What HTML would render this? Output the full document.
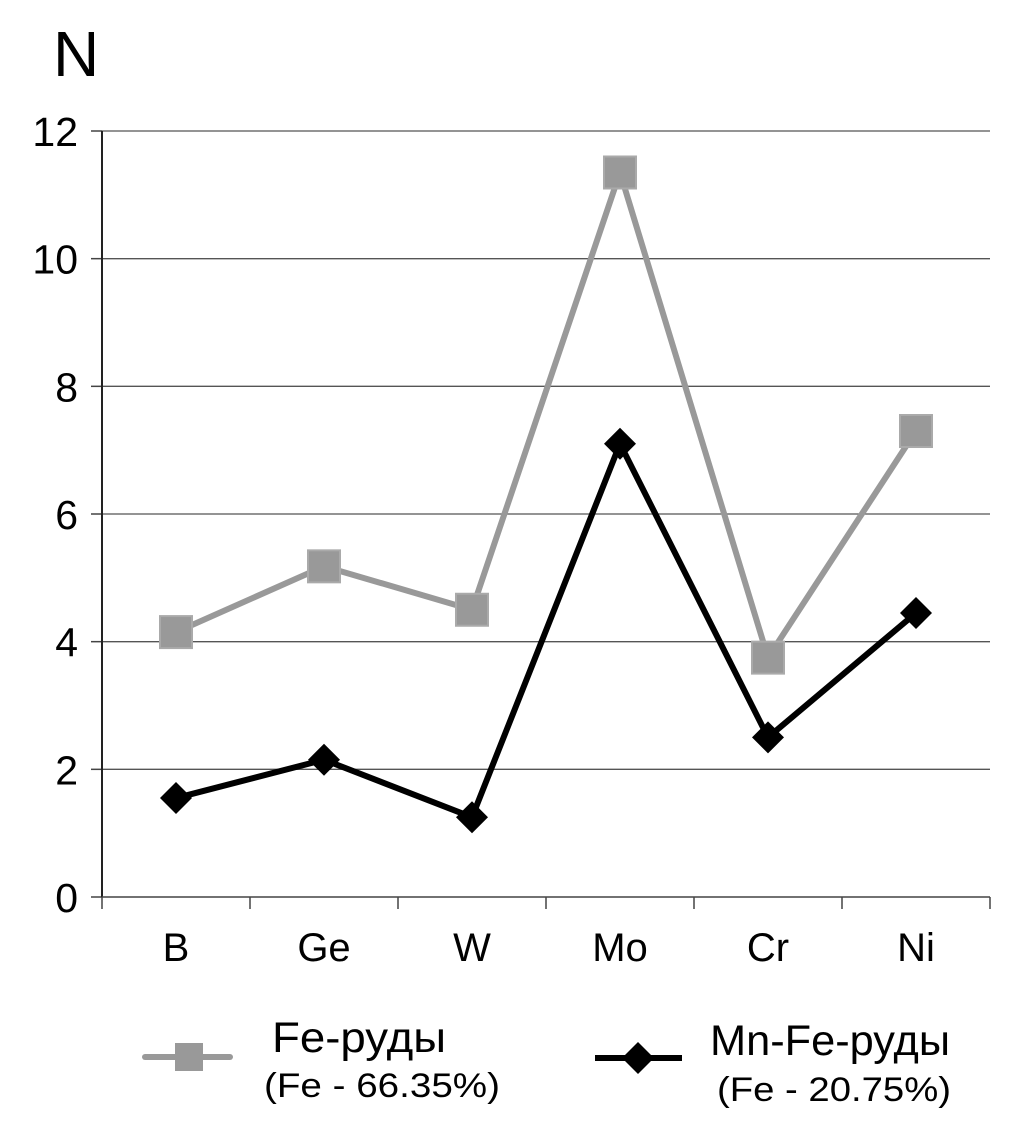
<!DOCTYPE html>
<html><head><meta charset="utf-8"><style>
body{margin:0;background:#fff;}
svg text{font-family:"Liberation Sans",sans-serif;}
</style></head><body>
<svg width="1014" height="1131" viewBox="0 0 1014 1131" id="chart">
<text x="53" y="76" font-size="64" fill="#000">N</text>
<g id="grid"></g><g id="axes"></g><g id="series"></g>
<g>
<g>
<line x1="145" y1="1057" x2="230" y2="1057" stroke="#999" stroke-width="6" stroke-linecap="round"/>
<rect x="175" y="1043" width="28" height="28" fill="#999"/>
<text x="272" y="1052" font-size="43" fill="#000" textLength="174" lengthAdjust="spacingAndGlyphs">Fe-руды</text>
<text x="264" y="1097" font-size="34" fill="#000" textLength="236" lengthAdjust="spacingAndGlyphs">(Fe - 66.35%)</text>
</g>
<g>
<line x1="595" y1="1058" x2="682" y2="1058" stroke="#000" stroke-width="6"/>
<polygon points="638,1042 654,1058 638,1074 622,1058" fill="#000"/>
<text x="710" y="1055" font-size="43" fill="#000" textLength="240" lengthAdjust="spacingAndGlyphs">Mn-Fe-руды</text>
<text x="717" y="1101" font-size="34" fill="#000" textLength="234" lengthAdjust="spacingAndGlyphs">(Fe - 20.75%)</text>
</g>
</g>
</svg>
<script>
const categories=["B","Ge","W","Mo","Cr","Ni"];
const feValues=[4.15,5.18,4.5,11.35,3.75,7.3];
const mnValues=[1.55,2.15,1.25,7.1,2.5,4.45];
const yTicks=[0,2,4,6,8,10,12];
const NS="http://www.w3.org/2000/svg";
const x0=102,x1=990,y0=897,y1=131,yMax=12;
const band=(x1-x0)/categories.length;
const xs=i=>x0+band*(i+0.5);
const ys=v=>y0-(v/yMax)*(y0-y1);
function mk(t,a,p){const e=document.createElementNS(NS,t);for(const k in a)e.setAttribute(k,a[k]);p.appendChild(e);return e;}
const grid=document.getElementById('grid'),axes=document.getElementById('axes'),ser=document.getElementById('series');
yTicks.forEach(v=>{
  const y=ys(v);
  if(v>0){const g=mk('line',{x1:x0,y1:y,x2:x1,y2:y,stroke:'#555','stroke-width':1.3},grid);
  
  }
  mk('line',{x1:91,y1:y,x2:x0,y2:y,stroke:'#444','stroke-width':1.5},axes);
  const t=mk('text',{x:78,y:y+15,'font-size':41,'text-anchor':'end',fill:'#000'},axes);
  t.textContent=v;
  
  
});
mk('line',{x1:x0,y1:y1,x2:x0,y2:y0,stroke:'#222','stroke-width':2},axes);
mk('line',{x1:x0,y1:y0,x2:x1,y2:y0,stroke:'#444','stroke-width':1.5},axes);
for(let i=0;i<=categories.length;i++){mk('line',{x1:x0+band*i,y1:y0,x2:x0+band*i,y2:y0+12,stroke:'#444','stroke-width':1.5},axes);}
categories.forEach((c,i)=>{
  const t=mk('text',{x:xs(i),y:961,'font-size':40,'text-anchor':'middle',fill:'#000'},axes);
  t.textContent=c;
  
  
});
function line(vals,col,name){
  const p=mk('polyline',{points:vals.map((v,i)=>xs(i)+','+ys(v)).join(' '),fill:'none',stroke:col,'stroke-width':6,'stroke-linejoin':'round'},ser);
  
  
}
line(feValues,'#999','fe-series');
line(mnValues,'#000','mnfe-series');
feValues.forEach((v,i)=>{
  const r=mk('rect',{x:xs(i)-16,y:ys(v)-16,width:32,height:32,fill:'#999',stroke:'#aaa','stroke-width':2},ser);
  
  
});
mnValues.forEach((v,i)=>{
  const x=xs(i),y=ys(v);
  const d=mk('polygon',{points:`${x},${y-16} ${x+16},${y} ${x},${y+16} ${x-16},${y}`,fill:'#000'},ser);
  
  
});
</script>
</body></html>
